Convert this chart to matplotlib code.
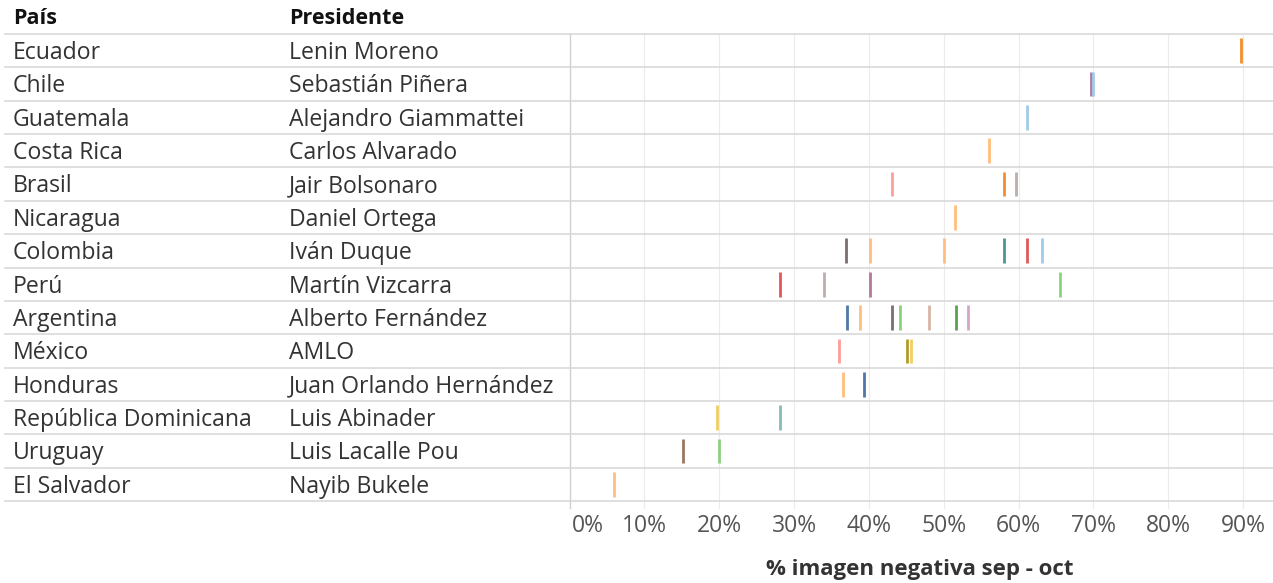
import matplotlib
matplotlib.use("Agg")
from matplotlib import pyplot as plt
from matplotlib.transforms import blended_transform_factory

paises = ["Ecuador", "Chile", "Guatemala", "Costa Rica", "Brasil", "Nicaragua",
          "Colombia", "Perú", "Argentina", "México", "Honduras",
          "República Dominicana", "Uruguay", "El Salvador"]
presidentes = ["Lenin Moreno", "Sebastián Piñera", "Alejandro Giammattei",
               "Carlos Alvarado", "Jair Bolsonaro", "Daniel Ortega", "Iván Duque",
               "Martín Vizcarra", "Alberto Fernández", "AMLO",
               "Juan Orlando Hernández", "Luis Abinader", "Luis Lacalle Pou",
               "Nayib Bukele"]

# % imagen negativa (sep - oct), una lista por país
valores = [
    [89.7],
    [69.7, 70.0],
    [61.1],
    [56.1],
    [43.1, 58.0, 59.6],
    [51.5],
    [37.0, 40.1, 50.0, 58.1, 61.1, 63.1],
    [28.1, 34.0, 40.2, 65.5],
    [37.1, 38.8, 43.1, 44.1, 48.1, 51.6, 53.2],
    [36.0, 45.1, 45.6],
    [36.6, 39.3],
    [19.7, 28.1],
    [15.1, 20.0],
    [6.0],
]

# colores de cada marca (paleta Tableau 20)
colores = [
    ["#f28e2b"],
    ["#b07aa1", "#a0cbe8"],
    ["#a0cbe8"],
    ["#ffbe7d"],
    ["#ff9d9a", "#f28e2b", "#bab0ac"],
    ["#ffbe7d"],
    ["#79706e", "#ffbe7d", "#ffbe7d", "#499894", "#e15759", "#a0cbe8"],
    ["#e15759", "#bab0ac", "#b07aa1", "#8cd17d"],
    ["#4e79a7", "#ffbe7d", "#79706e", "#8cd17d", "#d7b5a6", "#59a14f", "#d4a6c8"],
    ["#ff9d9a", "#b6992d", "#f1ce63"],
    ["#ffbe7d", "#4e79a7"],
    ["#f1ce63", "#86bcb6"],
    ["#9d7660", "#8cd17d"],
    ["#ffbe7d"],
]

ticks = [0, 10, 20, 30, 40, 50, 60, 70, 80, 90]

plt.rcParams['font.family'] = ['Open Sans', 'DejaVu Sans']

W, H = 1273, 583
fig = plt.figure(figsize=(W / 100, H / 100), dpi=100)
ax = fig.add_axes([569.5 / W, 1 - 501 / H, 700.5 / W, 467 / H])

n = len(paises)
ax.set_xlim(0, 93.6)
ax.set_ylim(n - 0.5, -0.5)

# rejilla vertical (se alarga un poco bajo la última fila)
for t in ticks[1:]:
    ax.plot([t, t], [-0.5, n - 0.3], color="#ececec", lw=0.8, zorder=0,
            clip_on=False)
ax.plot([0, 0], [-0.5, n - 0.3], color="#d0d0d0", lw=1.0, zorder=1,
        clip_on=False)

for i, (vals, cols) in enumerate(zip(valores, colores)):
    ax.vlines(vals, i - 0.37, i + 0.37, colors=cols, lw=2.0, zorder=3)

for s in ax.spines.values():
    s.set_visible(False)
ax.set_yticks([])
ax.set_xticks([])

trans = blended_transform_factory(fig.transFigure, ax.transData)
for i in range(n + 1):
    ax.plot([5 / W, 1.0], [i - 0.5, i - 0.5], transform=trans, color="#d6d6d6",
            lw=1.1, clip_on=False, zorder=1)

for i, (p, pr) in enumerate(zip(paises, presidentes)):
    ax.text(13 / W, i + 0.07, p, transform=trans, va="center", ha="left",
            fontsize=16.6, color="#333333")
    ax.text(289 / W, i + 0.07, pr, transform=trans, va="center", ha="left",
            fontsize=16.6, color="#333333")

fig.text(13 / W, 1 - 19 / H, "País", fontsize=15.5, fontweight="bold",
         va="center", ha="left", color="#111111")
fig.text(289 / W, 1 - 19 / H, "Presidente", fontsize=15.5, fontweight="bold",
         va="center", ha="left", color="#111111")

tick_trans = blended_transform_factory(ax.transData, fig.transFigure)
for t in ticks:
    if t == 0:
        ax.text(0.3, 1 - 526 / H, "0%", transform=tick_trans, ha="left",
                va="center", fontsize=16.5, color="#555555")
    else:
        ax.text(t, 1 - 526 / H, f"{t}%", transform=tick_trans, ha="center",
                va="center", fontsize=16.5, color="#555555")

fig.text((569.5 + 700.5 / 2) / W, 1 - 569 / H, "% imagen negativa sep - oct",
         fontsize=16, fontweight="bold", ha="center", va="center",
         color="#333333")

fig.savefig("out.png", dpi=100)
